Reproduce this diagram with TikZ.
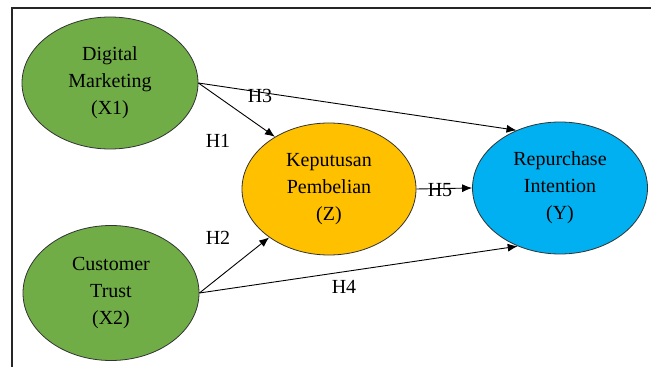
\documentclass[tikz,border=0pt]{standalone}
\usepackage{fontspec}
\setmainfont{Liberation Serif}
\newfontfamily\labelfont{Liberation Serif}
\usepackage{xcolor}
\usepackage{tikz}
\usetikzlibrary{arrows, arrows.meta, shapes, calc, positioning}

\definecolor{varx}{HTML}{70AD47}
\definecolor{varz}{HTML}{FFC000}
\definecolor{vary}{HTML}{00B0F0}

\begin{document}
\begin{tikzpicture}[
	x=1pt, y=-1pt,
	every node/.style = {font=\labelfont\fontsize{20}{27}\selectfont},
	construct/.style = {shape=ellipse, draw=black!80, line width=0.8pt, align=center,
	inner sep=0pt, minimum width=176pt, minimum height=132pt},
	path/.style = {-{Latex[length=10pt,width=8pt]}, line width=0.9pt},
	hyp/.style = {inner sep=1pt}
]
\useasboundingbox (0,0) rectangle (651,377);
\draw[line width=1.6pt, black!85] (651,8) -| (12,367);

\node[construct, fill=varx] (x1) at (110,83) {Digital\\Marketing\\(X1)};
\node[construct, fill=varx, minimum height=135pt] (x2) at (111,293) {Customer\\Trust\\(X2)};
\node[construct, fill=varz, minimum width=174pt] (z) at (329,189) {Keputusan\\Pembelian\\(Z)};
\node[construct, fill=vary, minimum width=175pt] (y) at (560,188) {Repurchase\\Intention\\(Y)};

\draw[path] (x1.east) -- (z.136);
\draw[path] (x1.east) -- (y.127);
\draw[path] (x2.east) -- (z.219);
\draw[path] (x2.east) -- (y.234);
\draw[path] (z.east) -- (y.west);

\node[hyp] (h1) at (218,141) {H1};
\node[hyp] (h2) at (218,238) {H2};
\node[hyp] (h3) at (260,96) {H3};
\node[hyp] (h4) at (344,287) {H4};
\node[hyp] (h5) at (440,190) {H5};
\end{tikzpicture}
\end{document}
